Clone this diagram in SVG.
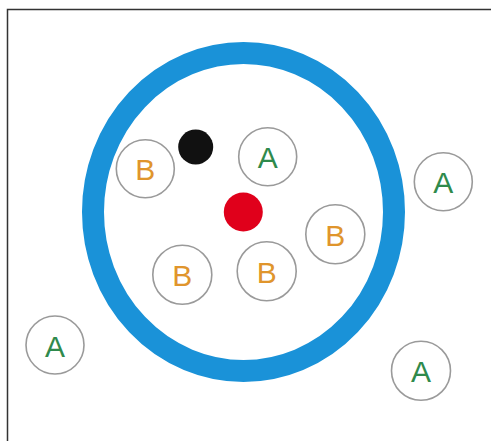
<svg xmlns="http://www.w3.org/2000/svg" width="491" height="441" viewBox="0 0 491 441">
<style>
.n{fill:#fff;stroke:#9a9a9a;stroke-width:1.6}
.t{font-family:"Liberation Sans",Arial,sans-serif;font-size:30px;text-anchor:middle;dominant-baseline:central}
.a{fill:#2f8a4c}
.b{fill:#e0952c}
</style>
<rect x="0" y="0" width="491" height="441" fill="#fff"/>
<path d="M7.5 441 V9.5 H491" fill="none" stroke="#333" stroke-width="1.5"/>
<g id="ring"><ellipse cx="243.5" cy="212" rx="150.5" ry="159" fill="none" stroke="#1a92d8" stroke-width="22"/></g>
<g id="connectors"></g>
<g id="black-dot"><circle cx="195.7" cy="147" r="17.5" fill="#111"/></g>
<g id="red-dot"><circle cx="243.3" cy="212" r="19.5" fill="#e0001b"/></g>
<g id="b1"><circle class="n" cx="145.3" cy="168.7" r="29"/><text class="t b" x="145.3" y="169.7">B</text></g>
<g id="a1"><circle class="n" cx="267.7" cy="156.7" r="29"/><text class="t a" x="267.7" y="157.7">A</text></g>
<g id="a2"><circle class="n" cx="443.3" cy="181.7" r="29"/><text class="t a" x="443.3" y="182.7">A</text></g>
<g id="b2"><circle class="n" cx="335.3" cy="234.3" r="29.5"/><text class="t b" x="335.3" y="235.3">B</text></g>
<g id="b3"><circle class="n" cx="182.3" cy="274.7" r="29.5"/><text class="t b" x="182.3" y="275.7">B</text></g>
<g id="b4"><circle class="n" cx="266.7" cy="271.3" r="29.5"/><text class="t b" x="266.7" y="272.3">B</text></g>
<g id="a3"><circle class="n" cx="55" cy="345" r="29"/><text class="t a" x="55" y="346">A</text></g>
<g id="a4"><circle class="n" cx="421" cy="370.7" r="29.5"/><text class="t a" x="421" y="371.7">A</text></g>
</svg>
